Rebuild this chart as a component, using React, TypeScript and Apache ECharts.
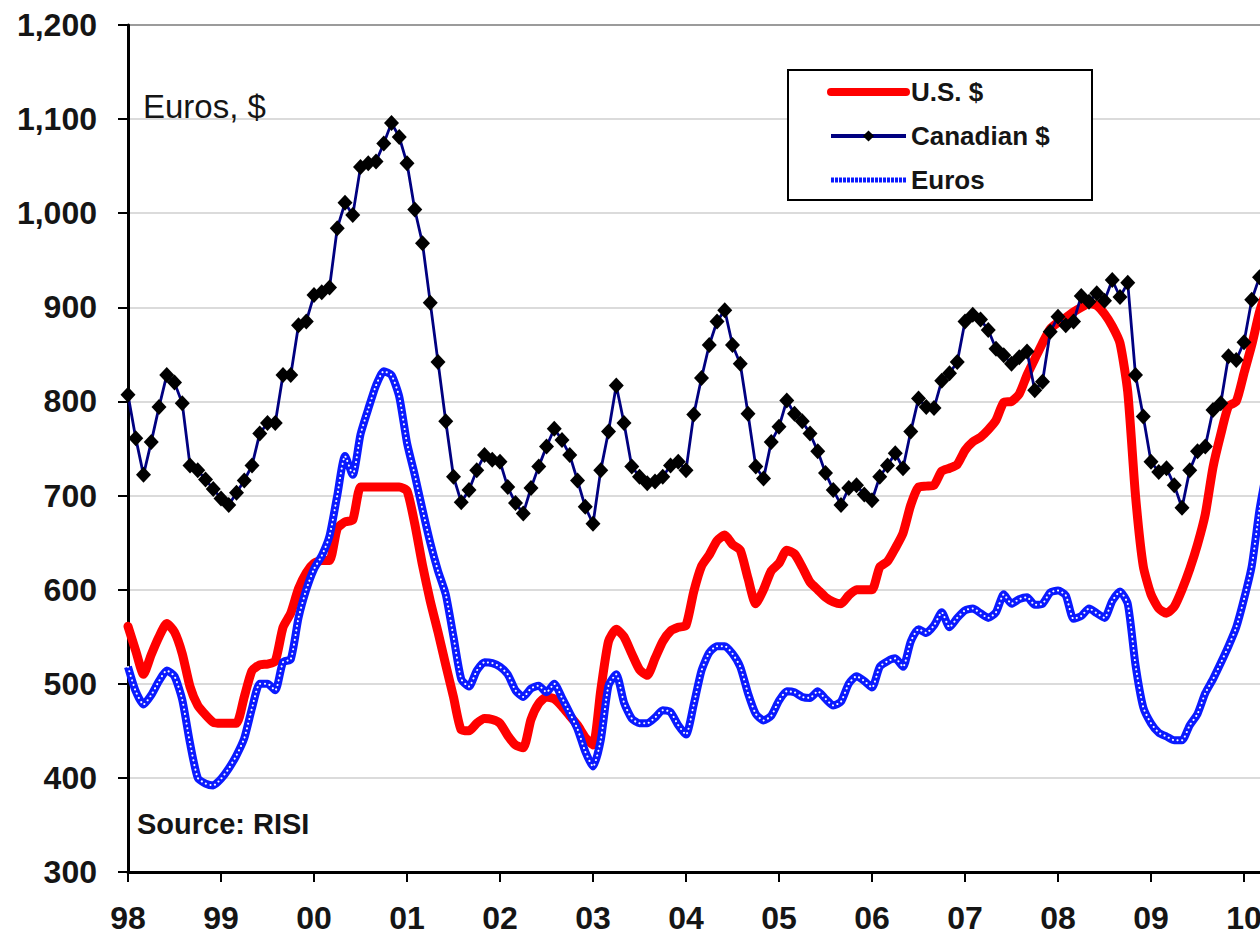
import React, { useEffect, useRef } from "react";
import * as echarts from "echarts";

// Monthly values, Jan 1998 onward
const START_YEAR = 1998;
const yearTicks = ["98", "99", "00", "01", "02", "03", "04", "05", "06", "07", "08", "09", "10"];

const usDollar = [
  561, 535, 510, 531, 550, 564, 555, 532, 497, 477, 467, 459,
  458, 458, 458, 486, 514, 520, 521, 524, 560, 575, 601, 618,
  628, 631, 631, 665, 672, 674, 709, 709, 709, 709, 709, 709,
  705, 670, 626, 588, 555, 520, 486, 451, 450, 458, 463, 462,
  458, 445, 435, 432, 462, 479, 486, 484, 476, 466, 456, 443,
  435, 493, 545, 558, 550, 532, 515, 509, 527, 545, 556, 560,
  562, 598, 625, 637, 652, 658, 648, 642, 612, 585, 600, 620,
  628, 642, 638, 624, 608, 600, 592, 587, 585, 594, 600, 600,
  600, 624, 630, 644, 660, 690, 709, 710, 711, 726, 729, 733,
  748, 757, 762, 770, 780, 799, 800, 808, 828, 845, 862, 877,
  884, 889, 895, 900, 904, 902, 893, 880, 862, 810, 700, 625,
  595, 580, 575, 582, 600, 622, 648, 680, 730, 765, 795, 800,
  830, 860, 895, 920,
];

const canadianDollar = [
  807, 761, 722, 757, 794, 828, 820, 798, 732, 727, 717, 707,
  697, 690, 703, 716, 732, 766, 777, 777, 828, 828, 881, 885,
  913, 916, 921, 984, 1011, 998, 1049, 1053, 1055, 1074, 1096, 1081,
  1053, 1004, 968, 905, 842, 779, 720, 693, 706, 727, 743, 738,
  736, 709, 692, 681, 708, 731, 752, 771, 759, 743, 716, 688,
  670, 727, 768, 817, 777, 731, 720, 713, 715, 720, 732, 736,
  727, 786, 825, 860, 885, 897, 860, 840, 787, 731, 718, 757,
  773, 801, 787, 779, 766, 747, 724, 706, 690, 708, 711, 701,
  695, 720, 732, 745, 729, 768, 803, 794, 793, 822, 830, 842,
  885, 892, 887, 876, 856, 849, 840, 847, 853, 812, 821, 874,
  890, 881, 885, 912, 906, 915, 907, 929, 911, 926, 828, 784,
  736, 725, 729, 711, 687, 727, 747, 752, 791, 798, 848, 844,
  863, 908, 932, 940,
];

const euros = [
  518, 492, 478, 488, 503, 514, 508, 483, 437, 400, 394, 392,
  399, 410, 424, 442, 474, 500, 500, 493, 523, 526, 570, 600,
  622, 636, 657, 700, 742, 722, 765, 792, 817, 832, 828, 805,
  756, 722, 685, 650, 620, 595, 550, 505, 497, 514, 523, 522,
  518, 510, 493, 486, 495, 498, 491, 500, 485, 469, 452, 428,
  412, 440, 498, 510, 480, 463, 458, 458, 464, 472, 470, 456,
  446, 478, 514, 533, 540, 540, 532, 518, 490, 468, 461, 466,
  482, 492, 491, 486, 485, 492, 484, 477, 481, 500, 508, 503,
  496, 518, 524, 527, 518, 545, 558, 554, 562, 576, 560, 570,
  578, 580, 575, 570, 576, 595, 585, 590, 592, 584, 585, 597,
  599, 594, 569, 572, 580, 575, 570, 588, 598, 585, 520, 475,
  458, 448, 444, 440, 440, 456, 468, 490, 505, 522, 540, 560,
  590, 625, 685, 730,
];

const FONT = "'Liberation Sans', Arial, sans-serif";
const TEXT = "#151515";
const BLUE = "#0a1aff";

const toPoints = (arr: number[]) => arr.map((v, i) => [START_YEAR + i / 12, v]);

export default function App() {
  const ref = useRef<HTMLDivElement>(null);

  useEffect(() => {
    if (!ref.current) return;
    const chart = echarts.init(ref.current, undefined, { renderer: "svg" });
    chart.setOption({
      animation: false,
      backgroundColor: "#ffffff",
      grid: {
        left: 128,
        top: 25,
        width: 93 * 13,
        height: 847,
        show: true,
        borderColor: "#000",
        borderWidth: 2,
        backgroundColor: "transparent",
      },
      xAxis: {
        type: "value",
        min: 1998,
        max: 2011,
        interval: 1,
        axisLine: { onZero: false, lineStyle: { color: "#000", width: 3 } },
        axisTick: { show: true, inside: false, length: 10, lineStyle: { color: "#000", width: 2 } },
        splitLine: { show: false },
        axisLabel: {
          margin: 30,
          fontSize: 32,
          fontWeight: "bold",
          fontFamily: FONT,
          color: TEXT,
          formatter: (v: number) => {
            const idx = Math.round(v - 1998);
            return Math.abs(v - Math.round(v)) < 1e-6 ? yearTicks[idx] ?? "" : "";
          },
        },
      },
      yAxis: {
        type: "value",
        min: 300,
        max: 1200,
        interval: 100,
        axisLine: { show: true, lineStyle: { color: "#000", width: 3 } },
        axisTick: { show: true, inside: false, length: 10, lineStyle: { color: "#000", width: 2 } },
        splitLine: { show: true, lineStyle: { color: "#cfcfcf", width: 1.5 } },
        axisLabel: {
          margin: 31,
          fontSize: 32,
          fontWeight: "bold",
          fontFamily: FONT,
          color: TEXT,
          formatter: (v: number) => v.toLocaleString("en-US"),
        },
      },
      legend: {
        data: [
          { name: "U.S. $", lineStyle: { width: 8, color: "#ff0000" }, itemStyle: { opacity: 0 } },
          { name: "Canadian $", lineStyle: { width: 4, color: "#000080" } },
          { name: "Euros", lineStyle: { width: 5, color: BLUE, type: [3, 1] }, itemStyle: { opacity: 0 } },
        ],
        orient: "vertical",
        left: 827,
        top: 79,
        itemWidth: 75,
        itemHeight: 14,
        itemGap: 18,
        padding: 0,
        z: 10,
        textStyle: {
          fontSize: 26,
          lineHeight: 26,
          fontWeight: "bold",
          fontFamily: FONT,
          color: TEXT,
        },
      },
      graphic: [
        {
          type: "rect",
          z: 5,
          shape: { x: 788, y: 70, width: 304, height: 130 },
          style: { fill: "#fff", stroke: "#000", lineWidth: 2 },
        },
        {
          type: "text",
          z: 5,
          x: 143,
          y: 106,
          style: {
            text: "Euros, $",
            fontSize: 33,
            fontFamily: FONT,
            fill: TEXT,
            verticalAlign: "middle",
          },
        },
        {
          type: "text",
          z: 5,
          x: 137,
          y: 824,
          style: {
            text: "Source: RISI",
            fontSize: 29,
            fontWeight: "bold",
            fontFamily: FONT,
            fill: TEXT,
            verticalAlign: "middle",
          },
        },
      ],
      series: [
        {
          name: "U.S. $",
          type: "line",
          data: toPoints(usDollar),
          smooth: 0.2,
          symbol: "none",
          lineStyle: { color: "#ff0000", width: 9, cap: "round", join: "round" },
          itemStyle: { color: "#ff0000" },
          z: 2,
        },
        {
          name: "Canadian $",
          type: "line",
          data: toPoints(canadianDollar),
          symbol: "diamond",
          symbolSize: [15, 16],
          showSymbol: true,
          lineStyle: { color: "#000080", width: 2.8 },
          itemStyle: { color: "#000000" },
          z: 3,
        },
        {
          name: "Euros",
          type: "line",
          data: toPoints(euros),
          smooth: 0.2,
          symbol: "none",
          lineStyle: { color: BLUE, width: 8, join: "round" },
          itemStyle: { color: BLUE },
          z: 4,
        },
        {
          name: "EurosDots",
          type: "line",
          data: toPoints(euros),
          smooth: 0.2,
          symbol: "none",
          silent: true,
          lineStyle: { color: "#ffffff", width: 2, type: [0.1, 4.6], cap: "round" },
          z: 5,
        },
      ],
    });
    return () => chart.dispose();
  }, []);

  return (
    <div
      style={{
        position: "fixed",
        left: 0,
        top: 0,
        width: 1260,
        height: 939,
        overflow: "hidden",
        background: "#fff",
      }}
    >
      <div ref={ref} style={{ width: 1400, height: 939 }} />
    </div>
  );
}
